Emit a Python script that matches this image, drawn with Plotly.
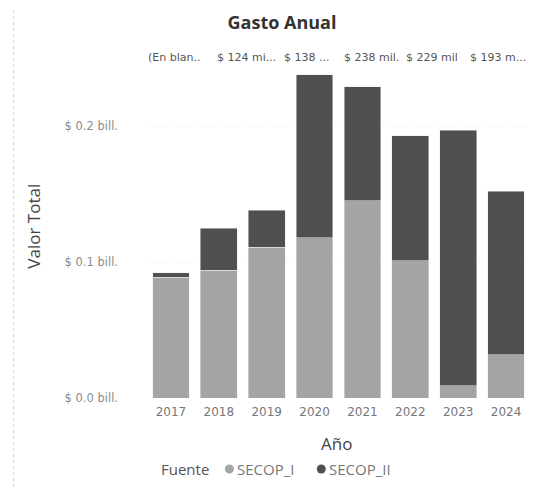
import plotly.graph_objects as go

anios = ["2017", "2018", "2019", "2020", "2021", "2022", "2023", "2024"]
# valores en billones de pesos
secop_i = [0.089, 0.094, 0.111, 0.118, 0.145, 0.101, 0.009, 0.032]
secop_ii = [0.003, 0.031, 0.027, 0.120, 0.084, 0.092, 0.188, 0.120]
etiquetas_sup = ["(En blan..", "$ 124 mi...", "$ 138 ...", "$ 238 mil.", "$ 229 mil", "$ 193 m..."]
etiquetas_x = [145, 215, 282, 342, 404, 468]
y_ticks = [0.0, 0.1, 0.2]
y_ticktext = ["$ 0.0 bill.", "$ 0.1 bill.", "$ 0.2 bill."]

# the page body has an 8px margin, so work in reference pixels and shift
OFF = 8
W, H = 541 - OFF, 489 - OFF
L, R, T, B = 146.5 - OFF, 11, 65 - OFF, 91
plot_w = W - L - R
plot_h = H - T - B
FONT = "Open Sans"
GRIS_CLARO = "#a4a4a4"
GRIS_OSCURO = "#4f4f4f"


def fx(px):
    return (px - OFF - L) / plot_w


def fy(py):
    return (H - B - (py - OFF)) / plot_h


fig = go.Figure()
fig.add_bar(x=anios, y=secop_i, name="SECOP_I", marker_color=GRIS_CLARO)
fig.add_bar(x=anios, y=secop_ii, name="SECOP_II", marker_color=GRIS_OSCURO)

for texto, px in zip(etiquetas_sup, etiquetas_x):
    fig.add_annotation(
        text=texto, x=fx(px), y=fy(58), xref="paper", yref="paper",
        xanchor="left", yanchor="middle", showarrow=False,
        font=dict(family="DejaVu Sans", size=11, color="#555"),
    )

# axis titles
fig.add_annotation(
    text="Valor Total", x=fx(32), y=fy(226), xref="paper", yref="paper",
    textangle=-90, showarrow=False, xanchor="center", yanchor="middle",
    font=dict(family=FONT, size=17, color="#444"),
)
fig.add_annotation(
    text="Año", x=fx(336), y=fy(443), xref="paper", yref="paper",
    showarrow=False, xanchor="center", yanchor="middle",
    font=dict(family=FONT, size=17, color="#444"),
)

# legend drawn by hand: "Fuente ● SECOP_I ● SECOP_II"
fig.add_annotation(
    text="Fuente", x=fx(159), y=fy(469), xref="paper", yref="paper",
    showarrow=False, xanchor="left", yanchor="middle",
    font=dict(family=FONT, size=15, color="#555"),
)
for nombre, color, cx in [("SECOP_I", GRIS_CLARO, 229), ("SECOP_II", GRIS_OSCURO, 321)]:
    fig.add_shape(
        type="circle", xref="paper", yref="paper",
        xsizemode="pixel", ysizemode="pixel", xanchor=fx(cx), yanchor=fy(469),
        x0=-4.5, x1=4.5, y0=-4.5, y1=4.5,
        fillcolor=color, line=dict(width=0),
    )
    fig.add_annotation(
        text=nombre, x=fx(cx + 6), y=fy(469), xref="paper", yref="paper",
        showarrow=False, xanchor="left", yanchor="middle",
        font=dict(family=FONT, size=15, color="#777"),
    )

# faint left edge of the visual
fig.add_shape(type="line", xref="paper", yref="paper",
              x0=fx(13), x1=fx(13), y0=fy(10), y1=fy(489),
              line=dict(color="#d0d0d0", width=1, dash="dot"))

fig.update_layout(
    width=W, height=H,
    margin=dict(l=L, r=R, t=T, b=B),
    barmode="stack", bargap=0.23,
    showlegend=False,
    paper_bgcolor="white", plot_bgcolor="white",
    font=dict(family=FONT, color="#444"),
    title=dict(
        text="<b>Gasto Anual</b>", x=(282 - OFF) / W, xanchor="center",
        y=1 - (23 - OFF) / H, yanchor="middle", yref="container",
        font=dict(family=FONT, size=18, color="#333"),
    ),
    xaxis=dict(
        tickfont=dict(family="DejaVu Sans", size=12, color="#777"),
        ticklabelstandoff=5,
        showgrid=False, showline=False, ticks="",
    ),
    yaxis=dict(
        range=[0, 0.245], tickvals=y_ticks, ticktext=y_ticktext,
        tickfont=dict(family="DejaVu Sans", size=11.5, color="#8c8c8c"),
        ticklabelstandoff=28,
        showgrid=True, gridcolor="#f2f2f2", griddash="dot",
        zeroline=False, showline=False,
    ),
)

fig.write_html("out.html")
